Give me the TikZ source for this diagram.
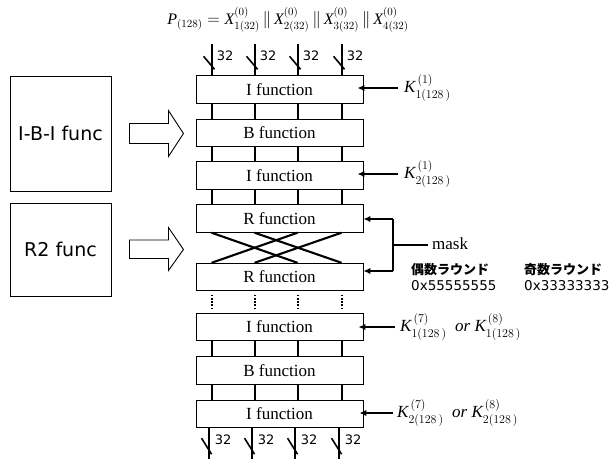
\documentclass[tikz,border=0pt]{standalone}
\usepackage{amsmath}
\usepackage{fontspec}
\setmainfont{Liberation Serif}
\newfontfamily\vd{DejaVu Sans}
\newfontfamily\cjk{Noto Sans CJK JP}
\usetikzlibrary{arrows.meta,calc}
\begin{document}
\begin{tikzpicture}[x=1pt,y=-1pt,
  fbox/.style={draw, line width=0.9pt, minimum width=167pt, minimum height=27.5pt, inner sep=0pt, font=\fontsize{17}{17}\selectfont},
  sidebox/.style={draw, line width=0.9pt, minimum width=101pt, inner sep=0pt, font=\fontsize{19}{19}\vd\selectfont},
  bus/.style={line width=2.1pt},
  busdot/.style={line width=2.1pt, dash pattern=on 1.6pt off 1.6pt},
  slashmark/.style={line width=1.6pt},
  buslab/.style={font=\fontsize{13}{13}\vd\selectfont, anchor=west, inner sep=0pt},
  arr/.style={line width=1.8pt, -{Latex[length=7pt,width=6.5pt]}},
  keylab/.style={anchor=west, inner sep=0pt, font=\fontsize{17}{17}\selectfont},
  hollow/.style={draw, line width=0.9pt},
  jp/.style={anchor=west, inner sep=0pt, font=\fontsize{13}{13}\cjk\bfseries\selectfont},
  hexlab/.style={anchor=west, inner sep=0pt, font=\fontsize{13.5}{13.5}\vd\selectfont}
]
\useasboundingbox (0,0) rectangle (612,459);

% title formula
\node[inner sep=0pt, font=\fontsize{16}{16}\selectfont] (title) at (288,20)
  {$\textit{P}_{(128)} = \textit{X}^{(0)}_{1(32)} \,\|\, \textit{X}^{(0)}_{2(32)} \,\|\, \textit{X}^{(0)}_{3(32)} \,\|\, \textit{X}^{(0)}_{4(32)}$};

% function boxes
\node[fbox] (i1) at (279.5,89.5) {I function};
\node[fbox] (b1) at (279.5,133) {B function};
\node[fbox] (i2) at (279.5,175.5) {I function};
\node[fbox] (r1) at (279.5,218.5) {R function};
\node[fbox] (r2) at (279.5,277) {R function};
\node[fbox] (i3) at (279.5,327) {I function};
\node[fbox] (b2) at (279.5,370.5) {B function};
\node[fbox] (i4) at (279.5,414) {I function};

% side boxes
\node[sidebox, minimum height=115pt] (ibi) at (60.5,133.5) {I-B-I func};
\node[sidebox, minimum height=93pt] (r2f) at (60.5,249.5) {R2 func};

% hollow arrows
\draw[hollow] ($(ibi.east)+(18,-10)$) -- ++(39,0) -- ++(0,-13) -- ($(ibi.east)+(72,0)$)
  -- ($(ibi.east)+(57,23)$) -- ++(0,-13) -- ++(-39,0) -- cycle;
\draw[hollow] ($(r2f.east)+(18,-9.5)$) -- ++(39,0) -- ++(0,-12.5) -- ($(r2f.east)+(72,0)$)
  -- ($(r2f.east)+(57,21)$) -- ++(0,-12) -- ++(-39,0) -- cycle;

% buses
\foreach \dx [count=\k] in {16,59,102,146} {
  \coordinate (top\k) at ($(i1.north west)+(\dx,-31)$);
  \coordinate (bot\k) at ($(i4.south west)+(\dx-3,31)$);
  \draw[bus] (top\k) -- (top\k |- i1.north);
  \draw[slashmark] ($(top\k)+(-8,12)$) -- ($(top\k)+(3,25)$);
  \node[buslab] (tl\k) at ($(top\k)+(5,11)$) {32};
  \draw[bus] ([xshift=\dx]i1.south west) -- ([xshift=\dx]b1.north west);
  \draw[bus] ([xshift=\dx]b1.south west) -- ([xshift=\dx]i2.north west);
  \draw[bus] ([xshift=\dx]i2.south west) -- ([xshift=\dx]r1.north west);
  \draw[busdot] ([xshift=\dx,yshift=-3.5]r2.south west) -- ([xshift=\dx,yshift=3]i3.north west);
  \draw[bus] ([xshift=\dx]i3.south west) -- ([xshift=\dx]b2.north west);
  \draw[bus] ([xshift=\dx]b2.south west) -- ([xshift=\dx]i4.north west);
  \draw[bus] (bot\k |- i4.south) -- (bot\k);
  \draw[slashmark] ($(bot\k)+(-7,-21)$) -- ($(bot\k)+(3,-5)$);
  \node[buslab] (bl\k) at ($(bot\k)+(6,-19)$) {32};
}

% crossing between R functions
\draw[bus] ([xshift=16]r1.south west) -- ([xshift=102]r2.north west);
\draw[bus] ([xshift=59]r1.south west) -- ([xshift=146]r2.north west);
\draw[bus] ([xshift=102]r1.south west) -- ([xshift=16]r2.north west);
\draw[bus] ([xshift=146]r1.south west) -- ([xshift=59]r2.north west);

% keys
\node[keylab] (k1) at (404,88) {$\textit{K}^{\,(1)}_{1(128\,)}$};
\node[keylab] (k2) at (404,174) {$\textit{K}^{\,(1)}_{2(128\,)}$};
\node[keylab] (k3) at (400,327) {$\textit{K}^{\,(7)}_{1(128\,)}$ \ \textit{or} $\textit{K}^{\,(8)}_{1(128\,)}$};
\node[keylab] (k4) at (397,413) {$\textit{K}^{\,(7)}_{2(128\,)}$ \ \textit{or} $\textit{K}^{\,(8)}_{2(128\,)}$};
\draw[arr] ([xshift=-6]k1.west) -- ([xshift=-6]k1.west -| i1.east);
\draw[arr] ([xshift=-6]k2.west) -- ([xshift=-6]k2.west -| i2.east);
\draw[arr] ([xshift=-5]k3.west) -- ([xshift=-5]k3.west -| i3.east);
\draw[arr] ([xshift=-4]k4.west) -- ([xshift=-4]k4.west -| i4.east);

% mask bracket
\coordinate (bt) at (393,219);
\coordinate (bb) at (393,271);
\coordinate (bm) at (393,245);
\node[keylab] (mask) at (432,244) {mask};
\draw[line width=1.8pt] (bt) -- (bb);
\draw[arr] (bt) -- (bt -| r1.east);
\draw[arr] (bb) -- (bb -| r2.east);
\draw[line width=1.8pt] (bm) -- ([xshift=-4]mask.west |- bm);

\node[jp] (even) at (411,270) {偶数ラウンド};
\node[hexlab] (evenv) at (411,286) {0x55555555};
\node[jp] (odd) at (524,270) {奇数ラウンド};
\node[hexlab] (oddv) at (524,286) {0x33333333};
\end{tikzpicture}
\end{document}
